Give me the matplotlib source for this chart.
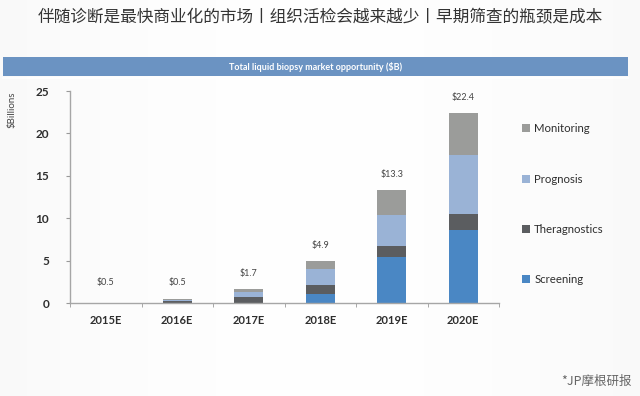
import numpy as np
import matplotlib
matplotlib.use("Agg")
import matplotlib.pyplot as plt
from matplotlib.patches import Rectangle, Patch

plt.rcParams['text.parse_math'] = False
plt.rcParams['font.family'] = ['Lato', 'DejaVu Sans']

# Data ($ billions)
years = ["2015E", "2016E", "2017E", "2018E", "2019E", "2020E"]
screening = [0.0, 0.0, 0.05, 1.1, 5.4, 8.6]
theragnostics = [0.0, 0.2, 0.6, 1.0, 1.3, 1.9]
prognosis = [0.0, 0.1, 0.7, 1.9, 3.7, 6.9]
monitoring = [0.0, 0.2, 0.3, 0.9, 2.9, 5.0]
total_labels = ["$0.5", "$0.5", "$1.7", "$4.9", "$13.3", "$22.4"]

series = [
    ("Screening", screening, "#4a87c4"),
    ("Theragnostics", theragnostics, "#5b5d60"),
    ("Prognosis", prognosis, "#9ab3d6"),
    ("Monitoring", monitoring, "#9b9c9a"),
]

fig = plt.figure(figsize=(6.4, 3.96), dpi=100)

# light grey background with a soft gradient
bg = fig.add_axes([0, 0, 1, 1], zorder=-10)
grad = np.linspace(0, 1, 256)[None, :]
grad = 1 - (grad - 0.5) ** 2 * 1.2
bg.imshow(grad, aspect="auto", cmap="Greys_r", vmin=-6, vmax=1.05,
          extent=[0, 1, 0, 1])
bg.set_xlim(0, 1)
bg.set_ylim(0, 1)
bg.axis("off")

# header
fig.text(0.5, 0.958, "伴随诊断是最快商业化的市场丨组织活检会越来越少丨早期筛查的瓶颈是成本",
         ha="center", va="center", fontsize=12, color="#333333", fontweight="medium",
         family=["Noto Sans CJK SC", "DejaVu Sans"])

# blue title band
fig.patches.append(Rectangle((3 / 640, 1 - 76 / 396), 625 / 640, 19 / 396,
                             transform=fig.transFigure, facecolor="#6b93c2",
                             edgecolor="none", zorder=1))
fig.text(316 / 640, 1 - 66.5 / 396, "Total liquid biopsy market opportunity ($B)",
         ha="center", va="center", fontsize=6.5, fontweight="bold", color="white")
fig.lines.append(plt.Line2D([3 / 640, 628 / 640], [1 - 78 / 396, 1 - 78 / 396],
                            transform=fig.transFigure, color="white", lw=1.2))

ax = fig.add_axes([70 / 640, 93 / 396, 429 / 640, 212 / 396])
ax.set_facecolor("none")

x = np.arange(len(years))
bottom = np.zeros(len(years))
for name, vals, col in series:
    ax.bar(x, vals, width=0.4, bottom=bottom, color=col, label=name, zorder=2)
    bottom = bottom + np.array(vals)

for xi, top, lab in zip(x, bottom, total_labels):
    ax.annotate(lab, (xi, max(top, 0.6)), xytext=(0, 8), textcoords="offset points",
                ha="center", va="bottom", fontsize=6.5, color="#444444")

ax.set_xlim(-0.5, len(years) - 0.5)
ax.set_ylim(0, 25)
ax.set_yticks([0, 5, 10, 15, 20, 25])
ax.set_xticks(x)
ax.set_xticklabels(years)
ax.set_xticks(np.arange(-0.5, len(years), 1), minor=True)
ax.tick_params(axis="x", which="major", length=0, pad=9, labelsize=8, labelcolor="#2e2e2e")
ax.tick_params(axis="x", which="minor", length=3, color="#999999", direction="out")
ax.tick_params(axis="y", length=3, color="#999999", pad=12, labelsize=8.5, labelcolor="#2e2e2e")
for lab in ax.get_xticklabels() + ax.get_yticklabels():
    lab.set_fontweight("bold")

for s in ["top", "right"]:
    ax.spines[s].set_visible(False)
for s in ["left", "bottom"]:
    ax.spines[s].set_color("#a6a6a6")
    ax.spines[s].set_linewidth(1.0)

fig.text(12 / 640, 1 - 110 / 396, "$Billions", rotation=90, ha="center", va="center",
         fontsize=7, color="#444444")

handles = [Patch(facecolor=c, edgecolor="none", label=n) for n, _, c in series][::-1]
fig.legend(handles=handles, loc="upper left", bbox_to_anchor=(512 / 640, 1 - 113 / 396),
           frameon=False, fontsize=8.2, labelspacing=3.45, handlelength=0.7,
           handleheight=0.7, handletextpad=0.35, labelcolor="#2e2e2e")

fig.text(632 / 640, 1 - 381 / 396, "*JP摩根研报", ha="right", va="center",
         fontsize=9, color="#666666", family=["Noto Sans CJK SC", "DejaVu Sans"])

fig.savefig("out.png", dpi=100)
